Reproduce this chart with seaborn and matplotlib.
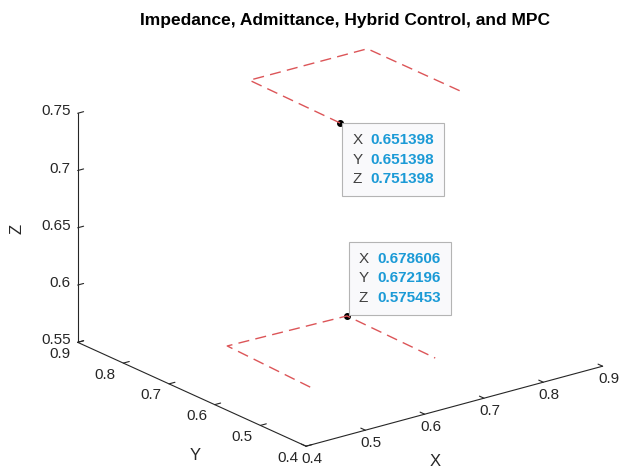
import numpy as np
import matplotlib
matplotlib.use('Agg')
import matplotlib.pyplot as plt
import seaborn as sns
from mpl_toolkits.mplot3d import proj3d
from matplotlib.ticker import NullFormatter
from matplotlib.offsetbox import TextArea, HPacker, AnnotationBbox

sns.set_style('white')
plt.rcParams['font.family'] = ['Liberation Sans', 'DejaVu Sans']

# dashed paths (upper one at the first tip's height, lower at the second)
upper_x = [0.853, 0.853, 0.655, 0.651398]
upper_y = [0.652, 0.854, 0.855, 0.651398]
upper_z = [0.751398, 0.751398, 0.751398, 0.751398]
lower_x = [0.474, 0.482, 0.678606, 0.674]
lower_y = [0.487, 0.679, 0.672196, 0.473]
lower_z = [0.575453, 0.575453, 0.575453, 0.575453]

# data tips
tip_x = [0.651398, 0.678606]
tip_y = [0.651398, 0.672196]
tip_z = [0.751398, 0.575453]

xticks = [0.4, 0.5, 0.6, 0.7, 0.8, 0.9]
yticks = [0.4, 0.5, 0.6, 0.7, 0.8, 0.9]
zticks = [0.55, 0.6, 0.65, 0.7, 0.75]

W, H = 627, 468
ink = '#262626'

fig = plt.figure(figsize=(W / 100, H / 100), dpi=100)
ax = fig.add_axes([0.1, 0.1, 0.8, 0.8], projection='3d', proj_type='ortho')
ax.view_init(elev=20.5, azim=-127.6)
ax.set_box_aspect((375, 375, 245))

ax.plot(upper_x, upper_y, upper_z, color='#dc5558', lw=1.0, ls=(0, (8, 4.5)))
ax.plot(lower_x, lower_y, lower_z, color='#dc5558', lw=1.0, ls=(0, (8, 4.5)))
ax.scatter(tip_x, tip_y, tip_z, color='black', s=16, depthshade=False)

ax.set_xlim(0.4, 0.9)
ax.set_ylim(0.4, 0.9)
ax.set_zlim(0.55, 0.75)
ax.set_xticks(xticks)
ax.set_yticks(yticks)
ax.set_zticks(zticks)
# tick labels are written by hand further down, MATLAB keeps them closer to the axes
for a in (ax.xaxis, ax.yaxis, ax.zaxis):
    a.set_major_formatter(NullFormatter())

ax.grid(False)
for a in (ax.xaxis, ax.yaxis, ax.zaxis):
    a.pane.fill = False
    a.pane.set_edgecolor((1, 1, 1, 0))
    a.line.set_color(ink)
    a.line.set_linewidth(0.8)
    a._axinfo['tick']['inward_factor'] = 0.0
    a._axinfo['tick']['outward_factor'] = 0.25
    a._axinfo['tick']['color'] = ink

# place the box so its corners land where the reference has them
fig.canvas.draw()
corners = [(0.4, 0.4, 0.55), (0.9, 0.4, 0.55), (0.4, 0.9, 0.55), (0.4, 0.9, 0.75)]
target = np.array([(306, 446), (603, 366), (77, 342), (78, 114)], float)
target[:, 1] = H - target[:, 1]
P = []
for cx, cy, cz in corners:
    px, py, _ = proj3d.proj_transform(cx, cy, cz, ax.M)
    P.append(ax.transData.transform((px, py)))
P = np.array(P)
pm, tm = P.mean(0), target.mean(0)
k = ((P - pm) * (target - tm)).sum() / ((P - pm) ** 2).sum()
shift = tm - k * pm
bb = ax.get_position()
side = bb.width * W * k
c = k * np.array([(bb.x0 + bb.x1) / 2 * W, (bb.y0 + bb.y1) / 2 * H]) + shift
ax.set_position([(c[0] - side / 2) / W, (c[1] - side / 2) / H, side / W, side / H])
fig.canvas.draw()


def flat(x, y, z):
    px, py, _ = proj3d.proj_transform(x, y, z, ax.M)
    return px, py


# tick labels
for t in xticks:
    ax.annotate(f'{t:g}', flat(t, 0.4, 0.55), xytext=(4.3, -9.4), textcoords='offset points',
                fontsize=11, color=ink, ha='center', va='center')
for t in yticks:
    ax.annotate(f'{t:g}', flat(0.4, t, 0.55), xytext=(-13, -8.3), textcoords='offset points',
                fontsize=11, color=ink, ha='center', va='center')
for t in zticks:
    ax.annotate(f'{t:g}', flat(0.4, 0.9, t), xytext=(-5, 1.4), textcoords='offset points',
                fontsize=11, color=ink, ha='right', va='center')

# data tip boxes
offsets = [((8.6, -7.3), (0, 1)), ((8.3, 8.1), (0, 0))]
for i in range(2):
    names = TextArea('X\nY\nZ', textprops=dict(color='#404040', fontsize=11, linespacing=1.5))
    vals = TextArea(f'{tip_x[i]:.6f}\n{tip_y[i]:.6f}\n{tip_z[i]:.6f}',
                    textprops=dict(color='#1b9ad6', fontsize=11, fontweight='bold', linespacing=1.5))
    box = HPacker(children=[names, vals], align='top', pad=0, sep=6)
    (dx, dy), align = offsets[i]
    ab = AnnotationBbox(box, flat(tip_x[i], tip_y[i], tip_z[i]), xycoords='data', xybox=(dx, dy),
                        boxcoords='offset points', box_alignment=align, frameon=True, fontsize=11,
                        bboxprops=dict(boxstyle='square,pad=0.65', facecolor='#f9f9fb',
                                       edgecolor='#b4b4b4', lw=0.8))
    ax.add_artist(ab)

# axis labels and title
fig.text(435 / W, 1 - 462 / H, 'X', fontsize=12, color=ink, ha='center', va='center')
fig.text(195 / W, 1 - 456 / H, 'Y', fontsize=12, color=ink, ha='center', va='center')
fig.text(17 / W, 1 - 229 / H, 'Z', fontsize=12, color=ink, ha='center', va='center', rotation=90)
fig.text(345 / W, 1 - 20 / H, 'Impedance, Admittance, Hybrid Control, and MPC', fontsize=12.5,
         fontweight='bold', color='black', ha='center', va='center')
fig.savefig('out.png', dpi=100)
